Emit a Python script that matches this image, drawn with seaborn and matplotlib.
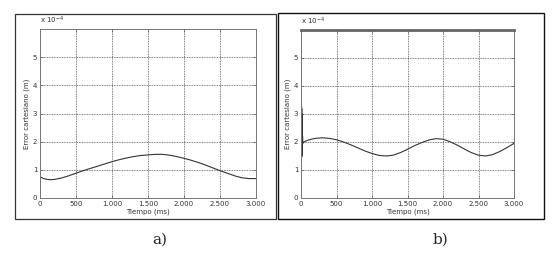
import matplotlib
matplotlib.use("Agg")
import matplotlib.pyplot as plt
import seaborn as sns
import pandas as pd

# ---- data (values in units of 1e-4 m) ----
t_a = [0, 5, 20, 50, 100, 150, 200, 300, 400, 500, 600, 700, 800, 900, 1000, 1100, 1200, 1300,
       1400, 1500, 1600, 1700, 1800, 1900, 2000, 2100, 2200, 2300, 2400, 2500, 2600, 2700, 2800,
       2900, 3000]
e_a = [0.0, 0.75, 0.73, 0.69, 0.66, 0.65, 0.66, 0.71, 0.79, 0.88, 0.97, 1.05, 1.13, 1.21, 1.29,
       1.36, 1.42, 1.47, 1.51, 1.53, 1.55, 1.55, 1.52, 1.47, 1.41, 1.34, 1.26, 1.17, 1.07, 0.97,
       0.88, 0.79, 0.72, 0.69, 0.69]

t_b = [8, 9, 10, 11, 12, 13, 14, 15, 16, 17, 18, 20, 22, 25, 40, 100, 200, 300, 400, 500, 600,
       700, 800, 900, 1000, 1100, 1200, 1300, 1400, 1500, 1600, 1700, 1800, 1900, 2000, 2100,
       2200, 2300, 2400, 2500, 2600, 2700, 2800, 2900, 3000]
e_b = [3.3, 1.45, 3.2, 1.5, 3.0, 1.55, 2.8, 1.6, 2.6, 1.7, 2.4, 1.8, 2.2, 1.95, 2.0, 2.07, 2.13,
       2.15, 2.13, 2.08, 2.0, 1.9, 1.79, 1.68, 1.59, 1.52, 1.50, 1.53, 1.62, 1.74, 1.87, 1.98,
       2.07, 2.12, 2.10, 2.01, 1.89, 1.75, 1.62, 1.53, 1.50, 1.55, 1.66, 1.80, 1.95]

xticks = [0, 500, 1000, 1500, 2000, 2500, 3000]
xticklabels = ["0", "500", "1.000", "1.500", "2.000", "2.500", "3.000"]
yticks = [0, 1, 2, 3, 4, 5]
yticklabels = ["0", "1", "2", "3", "4", "5"]

sns.set_theme(style="white")
plt.rcParams["font.family"] = ["DejaVu Sans"]

fig = plt.figure(figsize=(5.55, 2.54), dpi=100)
fig.patch.set_facecolor("white")

# outer frames
fig.add_artist(plt.Rectangle((15/555, 1-219/254), (276-15)/555, (219-14)/254,
                             fill=False, edgecolor="#333333", lw=0.9, transform=fig.transFigure))
fig.add_artist(plt.Rectangle((278/555, 1-219/254), (544-278)/555, (219-13)/254,
                             fill=False, edgecolor="#111111", lw=1.0, transform=fig.transFigure))

axA = fig.add_axes([40/555, 1-198/254, 216/555, 169/254])
axB = fig.add_axes([301/555, 1-198/254, 213/555, 168/254])

dfa = pd.DataFrame({"t": t_a, "e": e_a})
dfb = pd.DataFrame({"t": t_b, "e": e_b})
sns.lineplot(data=dfa, x="t", y="e", ax=axA, color="#333333", lw=0.8, sort=False, estimator=None)
sns.lineplot(data=dfb, x="t", y="e", ax=axB, color="#333333", lw=0.8, sort=False, estimator=None)

for ax, lbl, lx in [(axA, "a)", 160/555), (axB, "b)", 440/555)]:
    ax.set_xlim(0, 3000)
    ax.set_ylim(0, 6)
    ax.set_xticks(xticks)
    ax.set_xticklabels(xticklabels)
    ax.set_yticks(yticks)
    ax.set_yticklabels(yticklabels)
    ax.tick_params(direction="in", length=2, width=0.5, labelsize=5, pad=2,
                   colors="#555555", labelcolor="#333333", top=True, right=True,
                   bottom=True, left=True)
    ax.grid(True, linestyle=(0, (1.2, 1.2)), color="#333333", lw=0.5)
    for s in ax.spines.values():
        s.set_color("#777777")
        s.set_linewidth(0.7)
    ax.set_xlabel("Tiempo (ms)", fontsize=5, labelpad=1, color="#333333")
    ax.set_ylabel("Error cartesiano (m)", fontsize=5, labelpad=2, color="#333333")
    ax.text(0.0, 1.02, r"x 10$^{-4}$", transform=ax.transAxes, fontsize=5,
            color="#333333", ha="left", va="bottom")
    fig.text(lx, 1-240/254, lbl, fontsize=11, family="DejaVu Serif", ha="center", va="center")

axB.spines["top"].set_linewidth(2.0)
axB.spines["top"].set_color("#666666")

fig.savefig("out.png", dpi=100, facecolor="white")
